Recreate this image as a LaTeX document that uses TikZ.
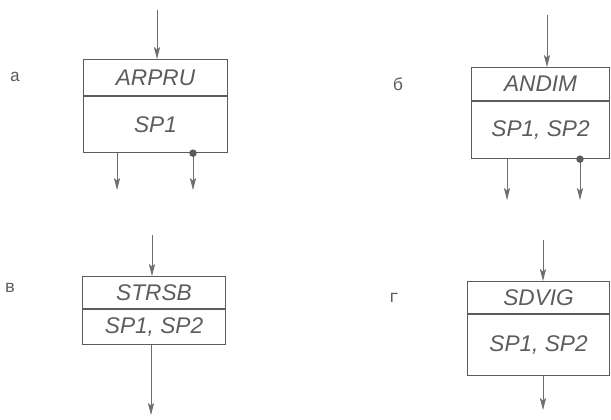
\documentclass[tikz,border=0pt]{standalone}
\usepackage{fontspec}
\setmainfont{Liberation Sans}
\newfontfamily\tagfont{Liberation Mono}
\usetikzlibrary{arrows.meta,calc,positioning}
\definecolor{Ink}{HTML}{5C5C5C}
\definecolor{Pencil}{HTML}{6E6E6E}

\begin{document}
\begin{tikzpicture}[x=0.75pt,y=-0.75pt,
    box/.style={draw=Ink,line width=0.8pt,inner sep=0pt,text=Ink,
      font=\itshape\fontsize{17}{19}\selectfont},
    flow/.style={draw=Pencil,line width=0.6pt,
      arrows={-Stealth[length=9pt,width=4.6pt,inset=2pt,fill=Pencil]}},
    tag/.style={text=Ink,font=\tagfont\fontsize{13}{15}\selectfont}]
  \useasboundingbox (0,0) rectangle (611,419);
  % the four blocks: header with the name, body with the lists
  \foreach \n/\l/\t/\w/\hh/\bh/\title/\body in {
      a/83/59/144/36/56/ARPRU/SP1,
      b/471/67/138/33/57/ANDIM/{SP1, SP2},
      c/82/276/143/32/35/STRSB/{SP1, SP2},
      d/467/281/142/32/61/SDVIG/{SP1, SP2}}{
    \node[box,anchor=north west,minimum width={\w*0.75pt},minimum height={\hh*0.75pt}]
      (h\n) at (\l,\t) {\title};
    \node[box,anchor=north,minimum width={\w*0.75pt},minimum height={\bh*0.75pt}]
      (b\n) at (h\n.south) {\body};
  }
  \node[tag] (ta) at (15,77) {а};
  \node[tag] (tb) at (398,84) {б};
  \node[tag] (tc) at (10,288) {в};
  \node[tag] (td) at (394,298) {г};
  % inputs
  \coordinate (ina) at (157,10);
  \coordinate (inb) at (547,15);
  \coordinate (inc) at (152,235);
  \coordinate (ind) at (543,240);
  \foreach \n in {a,b,c,d}
    \draw[flow] (in\n) -- (in\n |- h\n.north);
  % outputs
  \coordinate (outa1) at (117,190);
  \coordinate (outa2) at (193,190);
  \coordinate (outb1) at (507,200);
  \coordinate (outb2) at (580,200);
  \coordinate (outc) at (151,415);
  \coordinate (outd) at (543,410);
  \draw[flow] (outa1 |- ba.south) -- (outa1);
  \draw[flow] (outa2 |- ba.south) -- (outa2);
  \draw[flow] (outb1 |- bb.south) -- (outb1);
  \draw[flow] (outb2 |- bb.south) -- (outb2);
  \draw[flow] (outc |- bc.south) -- (outc);
  \draw[flow] (outd |- bd.south) -- (outd);
  \fill[Ink] (outa2 |- ba.south) circle[radius=2.8pt];
  \fill[Ink] (outb2 |- bb.south) circle[radius=2.8pt];
\end{tikzpicture}
\end{document}
